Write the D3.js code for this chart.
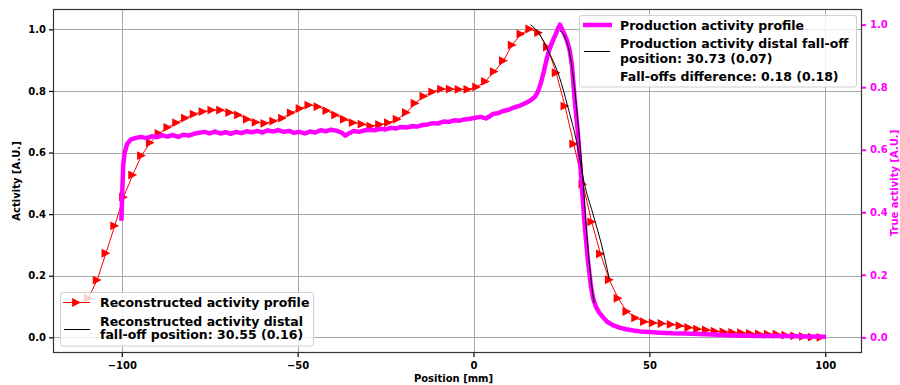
<!DOCTYPE html>
<html>
<head>
<meta charset="utf-8">
<script src="https://cdn.jsdelivr.net/npm/d3@7"></script>
<style>
  html, body { margin: 0; padding: 0; background: #fff; }
  svg { display: block; font-family: "DejaVu Sans", sans-serif; font-weight: bold; }
</style>
</head>
<body>
<svg id="chart" width="900" height="385"></svg>
<script>
// ---------------- data ----------------
const recX = [-109.5,-107.0,-104.5,-102.0,-99.5,-96.9,-94.4,-91.9,-89.4,-86.9,-84.4,-81.9,-79.4,-76.9,-74.4,-71.9,-69.3,-66.8,-64.3,-61.8,-59.3,-56.8,-54.3,-51.8,-49.3,-46.8,-44.2,-41.7,-39.2,-36.7,-34.2,-31.7,-29.2,-26.7,-24.2,-21.7,-19.1,-16.6,-14.1,-11.6,-9.1,-6.6,-4.1,-1.6,0.9,3.4,5.9,8.5,11.0,13.5,16.0,18.5,21.0,23.5,26.0,28.5,31.1,33.6,36.1,38.6,41.1,43.6,46.1,48.6,51.1,53.6,56.2,58.7,61.2,63.7,66.2,68.7,71.2,73.7,76.2,78.7,81.3,83.8,86.3,88.8,91.3,93.8,96.3,98.8];
const recY = [0.127,0.186,0.273,0.362,0.455,0.527,0.590,0.632,0.662,0.682,0.697,0.712,0.725,0.733,0.738,0.738,0.730,0.722,0.708,0.698,0.695,0.702,0.712,0.729,0.743,0.754,0.749,0.736,0.722,0.708,0.697,0.692,0.686,0.691,0.697,0.708,0.730,0.760,0.783,0.797,0.806,0.806,0.805,0.805,0.813,0.831,0.863,0.898,0.949,0.985,1.001,0.989,0.942,0.859,0.751,0.628,0.497,0.375,0.271,0.187,0.127,0.084,0.063,0.051,0.047,0.045,0.042,0.038,0.032,0.027,0.024,0.020,0.018,0.016,0.015,0.013,0.011,0.010,0.010,0.007,0.005,0.003,0.001,0.000];

const prodX = [-100.1,-99.9,-99.6,-99.2,-98.5,-97.5,-96.0,-94.5,-93.0,-91.5,-90.0,-88.5,-87.0,-85.5,-84.0,-82.5,-81.0,-79.5,-78.0,-76.5,-75.0,-73.5,-72.0,-70.5,-69.0,-67.5,-66.0,-64.5,-63.0,-61.5,-60.0,-58.5,-57.0,-55.5,-54.0,-52.5,-51.0,-49.5,-48.0,-46.5,-45.0,-43.5,-42.0,-40.5,-39.0,-37.5,-36.5,-35.5,-34.0,-32.5,-31.0,-29.5,-28.0,-26.5,-25.0,-23.5,-22.0,-20.5,-19.0,-17.5,-16.0,-14.5,-13.0,-11.5,-10.0,-8.5,-7.0,-5.5,-4.0,-2.5,-1.0,0.5,2.0,3.5,4.5,5.5,7.0,8.5,10.0,11.5,13.0,14.5,15.5,16.5,17.5,18.3,19.2,20.0,20.7,21.4,22.1,22.8,23.5,24.1,24.6,25.2,25.9,26.6,27.3,28.0,28.7,29.2,29.6,30.1,30.6,31.0,31.5,32.0,32.5,33.0,33.4,34.0,34.8,35.7,36.7,38.0,39.6,41.5,43.4,45.5,47.5,50.0,53.0,56.5,60.0,64.0,68.0,72.0,77.5,83.0,89.8,95.0,100.2];
const prodY = [0.373,0.450,0.550,0.590,0.618,0.632,0.638,0.641,0.637,0.643,0.640,0.646,0.642,0.647,0.641,0.648,0.645,0.651,0.654,0.657,0.652,0.658,0.652,0.656,0.651,0.657,0.653,0.659,0.656,0.660,0.655,0.662,0.658,0.663,0.657,0.660,0.654,0.657,0.652,0.658,0.655,0.662,0.659,0.664,0.661,0.655,0.645,0.652,0.660,0.657,0.662,0.664,0.662,0.667,0.665,0.670,0.668,0.673,0.671,0.675,0.674,0.679,0.681,0.685,0.684,0.690,0.689,0.694,0.693,0.697,0.699,0.702,0.705,0.700,0.706,0.714,0.717,0.724,0.728,0.735,0.740,0.748,0.753,0.760,0.770,0.785,0.815,0.850,0.885,0.915,0.936,0.955,0.973,0.990,1.000,0.985,0.968,0.948,0.920,0.870,0.770,0.710,0.664,0.590,0.514,0.450,0.376,0.310,0.248,0.200,0.162,0.125,0.098,0.080,0.066,0.050,0.039,0.031,0.026,0.022,0.019,0.017,0.015,0.013,0.012,0.011,0.009,0.007,0.005,0.004,0.004,0.003,0.002];

const fitRecX = [16.2,17.5,18.7,21.1,24.4,26.8,29.2,31.5,33.9,36.3,38.6];
const fitRecY = [1.015,1.002,0.985,0.933,0.846,0.749,0.641,0.500,0.403,0.305,0.190];

const fitProdX = [24.6,26.0,27.3,28.7,29.6,30.4,31.2,32.0,33.0,33.9,34.3];
const fitProdY = [0.980,0.960,0.910,0.800,0.700,0.600,0.490,0.360,0.230,0.140,0.110];

const xTicks = [-100,-50,0,50,100];
const yTicks = [0.0,0.2,0.4,0.6,0.8,1.0];

const legendRec = ["Reconstructed activity profile", ["Reconstructed activity distal", "fall-off position: 30.55 (0.16)"]];
const legendProd = ["Production activity profile", ["Production activity distal fall-off", "position: 30.73 (0.07)"], "Fall-offs difference: 0.18 (0.18)"];

// ---------------- layout ----------------
const L = 53, R = 862, T = 9, B = 353;
const LEG_FS = 12.5;
const svg = d3.select("#chart");

const x = d3.scaleLinear().domain([-119.55, 110.45]).range([L, R]);
const yL = d3.scaleLinear().domain([-0.0508, 1.066]).range([B, T]);
const yR = d3.scaleLinear().domain([-0.05, 1.05]).range([B, T]);

// grid
const grid = svg.append("g");
grid.selectAll("line.h").data(yTicks).join("line")
  .attr("x1", L).attr("x2", R)
  .attr("y1", d => Math.round(yL(d)) + 0.5).attr("y2", d => Math.round(yL(d)) + 0.5)
  .attr("stroke", "#a8a8a8").attr("stroke-width", 1);
grid.selectAll("line.v").data(xTicks).join("line")
  .attr("y1", T).attr("y2", B)
  .attr("x1", d => Math.round(x(d)) + 0.5).attr("x2", d => Math.round(x(d)) + 0.5)
  .attr("stroke", "#a8a8a8").attr("stroke-width", 1);

// clip
svg.append("clipPath").attr("id", "clip").append("rect")
  .attr("x", L).attr("y", T).attr("width", R - L).attr("height", B - T);
const plot = svg.append("g").attr("clip-path", "url(#clip)");

// reconstructed (left axis)
const recData = recX.map((v, i) => [v, recY[i]]);
plot.append("path").datum(recData)
  .attr("fill", "none").attr("stroke", "#ff0000").attr("stroke-width", 1)
  .attr("d", d3.line().x(d => x(d[0])).y(d => yL(d[1])));
const tri = "M4.4,0L-4.4,-4.4L-4.4,4.4Z";
plot.selectAll("path.mk").data(recData).join("path")
  .attr("class", "mk")
  .attr("d", tri)
  .attr("transform", d => `translate(${x(d[0])},${yL(d[1])})`)
  .attr("fill", "#ff0000");

// production (right axis)
const prodData = prodX.map((v, i) => [v, prodY[i]]);
plot.append("path").datum(prodData)
  .attr("fill", "none").attr("stroke", "#ff00ff").attr("stroke-width", 4.5)
  .attr("stroke-linejoin", "round")
  .attr("d", d3.line().x(d => x(d[0])).y(d => yR(d[1])));

// fits
plot.append("path").datum(fitRecX.map((v, i) => [v, fitRecY[i]]))
  .attr("fill", "none").attr("stroke", "#000").attr("stroke-width", 1)
  .attr("d", d3.line().curve(d3.curveMonotoneX).x(d => x(d[0])).y(d => yL(d[1])));
plot.append("path").datum(fitProdX.map((v, i) => [v, fitProdY[i]]))
  .attr("fill", "none").attr("stroke", "#000").attr("stroke-width", 1)
  .attr("d", d3.line().curve(d3.curveMonotoneX).x(d => x(d[0])).y(d => yR(d[1])));

// frame
svg.append("rect").attr("x", L + 0.5).attr("y", T + 0.5).attr("width", R - L - 1).attr("height", B - T - 1)
  .attr("fill", "none").attr("stroke", "#333").attr("stroke-width", 1.2);

// axes
const fmt1 = d3.format(".1f");
const gL = svg.append("g").attr("transform", `translate(${L},0)`)
  .call(d3.axisLeft(yL).tickValues(yTicks).tickFormat(fmt1).tickSize(4).tickPadding(3));
const gR = svg.append("g").attr("transform", `translate(${R},0)`)
  .call(d3.axisRight(yR).tickValues(yTicks).tickFormat(fmt1).tickSize(4).tickPadding(4));
const gB = svg.append("g").attr("transform", `translate(0,${B})`)
  .call(d3.axisBottom(x).tickValues(xTicks).tickFormat(d3.format("d")).tickSize(4).tickPadding(5));
[gL, gR, gB].forEach(g => {
  g.select(".domain").remove();
  g.selectAll("text").attr("font-family", "DejaVu Sans").attr("font-weight", "bold").attr("font-size", 10);
});
gL.selectAll("line").attr("stroke", "#000").attr("stroke-width", 1.2);
gL.selectAll("text").attr("fill", "#000");
gB.selectAll("line").attr("stroke", "#000").attr("stroke-width", 1.2);
gB.selectAll("text").attr("fill", "#000");
gR.selectAll("line").attr("stroke", "#ff00ff").attr("stroke-width", 2);
gR.selectAll("text").attr("fill", "#ff00ff");

// axis titles
svg.append("text").attr("x", (L + R) / 2 - 4).attr("y", 382).attr("text-anchor", "middle")
  .attr("font-size", 10).attr("fill", "#000").text("Position [mm]");
svg.append("text").attr("transform", "translate(20,181) rotate(-90)").attr("text-anchor", "middle")
  .attr("font-size", 10).attr("fill", "#000").text("Activity [A.U.]");
svg.append("text").attr("transform", "translate(897.5,183) rotate(-90)").attr("text-anchor", "middle")
  .attr("font-size", 10).attr("fill", "#ff00ff").text("True activity [A.U.]");

// legend: reconstructed (bottom-left)
const lg1 = svg.append("g");
lg1.append("rect").attr("x", 60.5).attr("y", 292.5).attr("width", 253).attr("height", 53.5).attr("rx", 2.5)
  .attr("fill", "#fff").attr("fill-opacity", 0.8).attr("stroke", "#d0d0d0").attr("stroke-width", 1);
lg1.append("line").attr("x1", 63).attr("x2", 90).attr("y1", 302.5).attr("y2", 302.5)
  .attr("stroke", "#ff0000").attr("stroke-width", 1);
lg1.append("path").attr("d", tri).attr("transform", "translate(76.5,302.5)").attr("fill", "#ff0000");
lg1.append("line").attr("x1", 64).attr("x2", 90).attr("y1", 329.5).attr("y2", 329.5)
  .attr("stroke", "#000").attr("stroke-width", 1);
lg1.append("text").attr("x", 100).attr("y", 307).attr("font-size", LEG_FS).attr("fill", "#000").text(legendRec[0]);
lg1.append("text").attr("x", 100).attr("y", 325.5).attr("font-size", LEG_FS).attr("fill", "#000").text(legendRec[1][0]);
lg1.append("text").attr("x", 100).attr("y", 339).attr("font-size", LEG_FS).attr("fill", "#000").text(legendRec[1][1]);

// legend: production (top-right)
const lg2 = svg.append("g");
lg2.append("rect").attr("x", 579.5).attr("y", 15.5).attr("width", 277).attr("height", 71.5).attr("rx", 2.5)
  .attr("fill", "#fff").attr("fill-opacity", 0.8).attr("stroke", "#d0d0d0").attr("stroke-width", 1);
lg2.append("line").attr("x1", 583).attr("x2", 612).attr("y1", 25).attr("y2", 25)
  .attr("stroke", "#ff00ff").attr("stroke-width", 4.5);
lg2.append("line").attr("x1", 584).attr("x2", 610).attr("y1", 51.5).attr("y2", 51.5)
  .attr("stroke", "#000").attr("stroke-width", 1);
lg2.append("text").attr("x", 620).attr("y", 29.5).attr("font-size", LEG_FS).attr("fill", "#000").text(legendProd[0]);
lg2.append("text").attr("x", 620).attr("y", 48).attr("font-size", LEG_FS).attr("fill", "#000").text(legendProd[1][0]);
lg2.append("text").attr("x", 620).attr("y", 62.5).attr("font-size", LEG_FS).attr("fill", "#000").text(legendProd[1][1]);
lg2.append("text").attr("x", 620).attr("y", 81).attr("font-size", LEG_FS).attr("fill", "#000").text(legendProd[2]);
</script>
</body>
</html>
